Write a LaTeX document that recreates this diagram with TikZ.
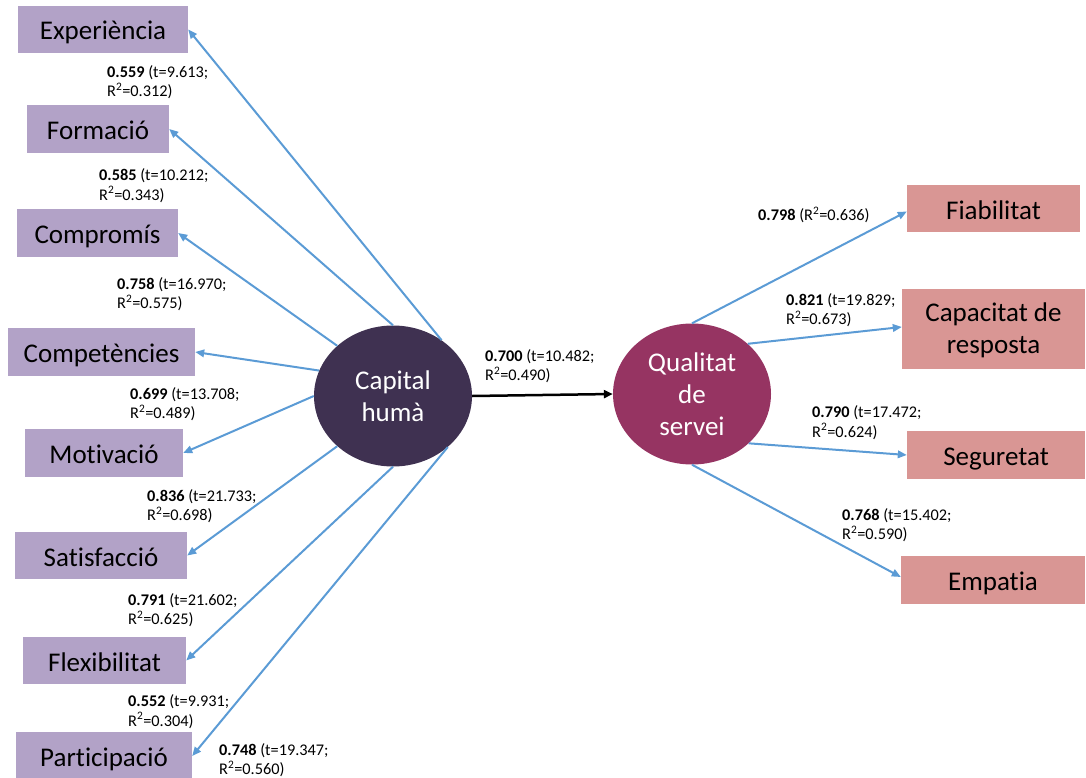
\documentclass[tikz,border=0pt]{standalone}
\usepackage{fontspec}
\setmainfont{Carlito}[Ligatures=NoCommon]
\usetikzlibrary{shapes.geometric,arrows.meta}

\definecolor{boxpurple}{RGB}{178,162,199}
\definecolor{boxpink}{RGB}{217,150,148}
\definecolor{capcol}{RGB}{63,49,81}
\definecolor{qualcol}{RGB}{150,52,98}
\definecolor{linkblue}{RGB}{91,155,213}

\tikzset{
  boxfont/.style={font=\fontsize{27}{32}\selectfont},
  indbox/.style={boxfont, fill=boxpurple, inner sep=0pt, minimum height=47.5pt,
    text=black, text height=27.8pt, text depth=6.8pt},
  outbox/.style={boxfont, fill=boxpink, inner sep=0pt, minimum height=47.5pt,
    text=black},
  onelineout/.style={outbox, text height=27.8pt, text depth=6.8pt},
  latent/.style={ellipse, inner sep=0pt, minimum width=158pt, minimum height=141pt,
    boxfont, text=white, align=center},
  coef/.style={anchor=west, inner sep=0pt, align=left,
    font=\fontsize{16.3}{19.5}\selectfont, text=black},
  link/.style={draw=linkblue, line width=2pt,
    -{Triangle[length=9pt,width=7.5pt]}},
  mainlink/.style={draw=black, line width=2.5pt,
    -{Triangle[length=9pt,width=8pt]}}
}

\newcommand{\rsq}{R\textsuperscript{2}}

\begin{document}
\begin{tikzpicture}[x=1pt,y=-1pt]
\useasboundingbox (0,0) rectangle (1086,778);

% latent constructs
\node[latent, fill=capcol] (cap) at (393,396) {Capital\\humà};
\node[latent, fill=qualcol] (qual) at (692,394) {Qualitat\\de\\servei};

% indicators of human capital
\node[indbox, minimum width=170pt] (exp) at (103,29.5) {Experiència};
\node[indbox, minimum width=142pt] (for) at (98,129) {Formació};
\node[indbox, minimum width=161pt] (com) at (97.5,233) {Compromís};
\node[indbox, minimum width=187pt] (cpt) at (101.5,352) {Competències};
\node[indbox, minimum width=158pt] (mot) at (104,453) {Motivació};
\node[indbox, minimum width=172pt] (sat) at (101,555.5) {Satisfacció};
\node[indbox, minimum width=163pt] (fle) at (104.5,660.5) {Flexibilitat};
\node[indbox, minimum width=176pt] (par) at (104,756) {Participació};

% indicators of service quality
\node[onelineout, minimum width=173pt] (fia) at (993.5,208.5) {Fiabilitat};
\node[outbox, minimum width=183pt, minimum height=80pt] (cap2) at (993.5,329)
  {\raisebox{-8.5pt}[10pt][10pt]{\begin{tabular}{@{}c@{}}Capacitat de\\resposta\end{tabular}}};
\node[onelineout, minimum width=178pt] (seg) at (996,455) {Seguretat};
\node[onelineout, minimum width=184pt] (emp) at (993,580) {Empatia};

% loadings
\node[coef] (c1) at (107,82) {\textbf{0.559} (t=9.613;\\\rsq=0.312)};
\node[coef] (c2) at (99,185.5) {\textbf{0.585} (t=10.212;\\\rsq=0.343)};
\node[coef] (c3) at (117,294) {\textbf{0.758} (t=16.970;\\\rsq=0.575)};
\node[coef] (c4) at (130,404) {\textbf{0.699} (t=13.708;\\\rsq=0.489)};
\node[coef] (c5) at (147,506) {\textbf{0.836} (t=21.733;\\\rsq=0.698)};
\node[coef] (c6) at (128,610) {\textbf{0.791} (t=21.602;\\\rsq=0.625)};
\node[coef] (c7) at (128,711.5) {\textbf{0.552} (t=9.931;\\\rsq=0.304)};
\node[coef] (c8) at (219,760) {\textbf{0.748} (t=19.347;\\\rsq=0.560)};
\node[coef] (c0) at (485,366) {\textbf{0.700} (t=10.482;\\\rsq=0.490)};
\node[coef] (d1) at (758,215) {\textbf{0.798} (\rsq=0.636)};
\node[coef] (d2) at (786,310) {\textbf{0.821} (t=19.829;\\\rsq=0.673)};
\node[coef] (d3) at (812,422.5) {\textbf{0.790} (t=17.472;\\\rsq=0.624)};
\node[coef] (d4) at (842,525) {\textbf{0.768} (t=15.402;\\\rsq=0.590)};

% structural path
\draw[mainlink] (cap.east) -- (qual.west);

% reflective links of human capital
\draw[link] (cap.49) -- (exp.east);
\draw[link] (cap.90) -- (for.east);
\draw[link] (cap.138) -- (com.east);
\draw[link] (cap.161.5) -- (cpt.east);
\draw[link] (cap.180) -- (mot.east);
\draw[link] (cap.222) -- (sat.east);
\draw[link] (cap.270) -- (fle.east);
\draw[link] (cap.317.5) -- (par.east);

% reflective links of service quality
\draw[link] (qual.90) -- ([yshift=-3pt]fia.west);
\draw[link] (qual.42) -- ([yshift=2pt]cap2.west);
\draw[link] (qual.-41) -- (seg.west);
\draw[link] (qual.270) -- ([yshift=3pt]emp.west);
\end{tikzpicture}
\end{document}
